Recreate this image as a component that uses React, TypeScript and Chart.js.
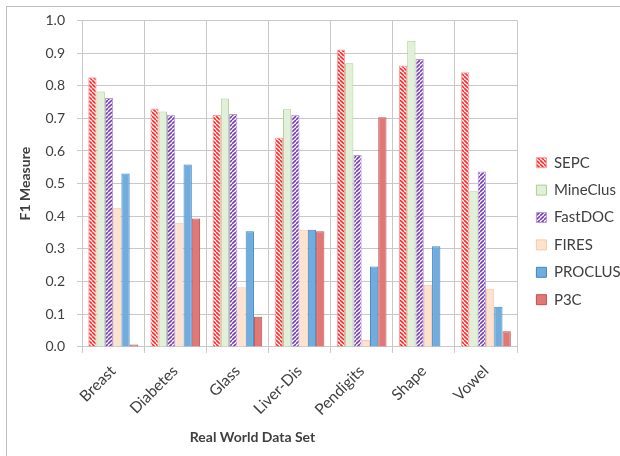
import React, { useEffect, useRef } from 'react';
import { Chart, registerables } from 'chart.js';
Chart.register(...registerables);

const categories = ['Breast', 'Diabetes', 'Glass', 'Liver-Dis', 'Pendigits', 'Shape', 'Vowel'];
const seriesNames = ['SEPC', 'MineClus', 'FastDOC', 'FIRES', 'PROCLUS', 'P3C'];
const sepc = [0.826, 0.730, 0.710, 0.641, 0.911, 0.862, 0.841];
const mineclus = [0.782, 0.721, 0.761, 0.728, 0.869, 0.938, 0.477];
const fastdoc = [0.762, 0.711, 0.713, 0.711, 0.588, 0.882, 0.537];
const fires = [0.426, 0.380, 0.183, 0.359, 0.021, 0.190, 0.178];
const proclus = [0.531, 0.559, 0.354, 0.359, 0.246, 0.308, 0.123];
const p3c = [0.007, 0.393, 0.092, 0.354, 0.703, 0, 0.048];
const yMin = 0;
const yMax = 1.0;
const yStep = 0.1;
const xTitle = 'Real World Data Set';
const yTitle = 'F1 Measure';

const FONT = 'Lato, "Liberation Sans", sans-serif';
const TEXT = '#404040';

function stripes(color: string, dir: 'back' | 'fwd'): CanvasPattern | string {
  const size = 4;
  const c = document.createElement('canvas');
  c.width = size;
  c.height = size;
  const ctx = c.getContext('2d');
  if (!ctx) return color;
  ctx.fillStyle = '#ffffff';
  ctx.fillRect(0, 0, size, size);
  ctx.strokeStyle = color;
  ctx.lineWidth = 1.6;
  ctx.beginPath();
  for (let k = -1; k <= 1; k++) {
    if (dir === 'back') {
      ctx.moveTo(k * size, 0);
      ctx.lineTo(k * size + size, size);
    } else {
      ctx.moveTo(k * size, size);
      ctx.lineTo(k * size + size, 0);
    }
  }
  ctx.stroke();
  const p = ctx.createPattern(c, 'repeat');
  return p || color;
}

export default function App() {
  const ref = useRef<HTMLCanvasElement | null>(null);
  useEffect(() => {
    if (!ref.current) return;
    const xTitlePlugin = {
      id: 'xTitlePlugin',
      afterDraw(chart: any) {
        const s = chart.scales.x;
        const ctx = chart.ctx;
        ctx.save();
        ctx.font = `bold 14px ${FONT}`;
        ctx.fillStyle = TEXT;
        ctx.textAlign = 'center';
        ctx.textBaseline = 'middle';
        ctx.fillText(xTitle, (s.left + s.right) / 2 - 47, chart.height - 19);
        ctx.restore();
      },
    };
    const values = [sepc, mineclus, fastdoc, fires, proclus, p3c];
    const fills = [
      stripes('#ff2a2a', 'back'),
      '#e2f0d9',
      stripes('#7a3fb5', 'fwd'),
      '#fde3cf',
      '#72acdc',
      '#e07878',
    ];
    const borders = ['#ff9a9a', '#a9d18e', '#b79ad8', '#f8c9a6', '#3d85c6', '#c0504d'];
    const chart = new Chart(ref.current, {
      type: 'bar',
      data: {
        labels: categories,
        datasets: seriesNames.map((name, i) => ({
          label: name,
          data: values[i],
          backgroundColor: fills[i] as any,
          borderColor: borders[i],
          borderWidth: 1,
          categoryPercentage: 0.8,
          barPercentage: 1.0,
          yAxisID: 'y',
        })),
      },
      options: {
        animation: false,
        responsive: true,
        maintainAspectRatio: false,
        layout: { padding: { top: 20, left: 4.7, right: 0, bottom: 28 } },
        plugins: {
          legend: {
            position: 'right',
            align: 'center',
            maxWidth: 96,
            title: { display: true, text: ' ', padding: 0, font: { family: FONT, size: 12 } },
            labels: {
              boxWidth: 10,
              boxHeight: 10,
              padding: 12.4,
              color: TEXT,
              font: { family: FONT, size: 15 },
            },
          },
          tooltip: { enabled: false },
        },
        scales: {
          x: {
            grid: { color: '#c8c8c8', offset: true, tickLength: 6 },
            border: { color: '#c8c8c8' },
            ticks: {
              color: TEXT,
              padding: 9,
              font: { family: FONT, size: 15.5 },
              minRotation: 45,
              maxRotation: 45,
            },
          },
          y: {
            min: yMin,
            max: yMax,
            grid: { color: '#c8c8c8', tickLength: 5 },
            border: { color: '#c8c8c8' },
            ticks: {
              stepSize: yStep,
              color: TEXT,
              padding: 12,
              font: { family: FONT, size: 14 },
              callback: (v: any) => Number(v).toFixed(1),
            },
            title: {
              display: true,
              text: yTitle,
              color: TEXT,
              font: { family: FONT, size: 14, weight: 'bold' },
              padding: { top: 12, bottom: 0 },
            },
          },
          yRight: {
            type: 'linear',
            position: 'right',
            display: true,
            grid: { display: false, drawTicks: false },
            border: { display: false },
            ticks: { display: false },
            afterFit: (scale: any) => {
              scale.width = 7;
            },
          },
        },
      },
      plugins: [xTitlePlugin],
    });
    return () => chart.destroy();
  }, []);
  return (
    <div style={{ position: 'fixed', left: 0, top: 0, width: 620, height: 456, background: '#fff' }}>
      <div
        style={{
          position: 'absolute',
          left: 6,
          top: 6,
          right: 0,
          bottom: 0,
          borderTop: '1px solid #bdbdbd',
          borderLeft: '1px solid #bdbdbd',
        }}
      />
      <div style={{ position: 'absolute', left: 0, top: 0, width: 620, height: 456 }}>
        <canvas ref={ref} />
      </div>
    </div>
  );
}
